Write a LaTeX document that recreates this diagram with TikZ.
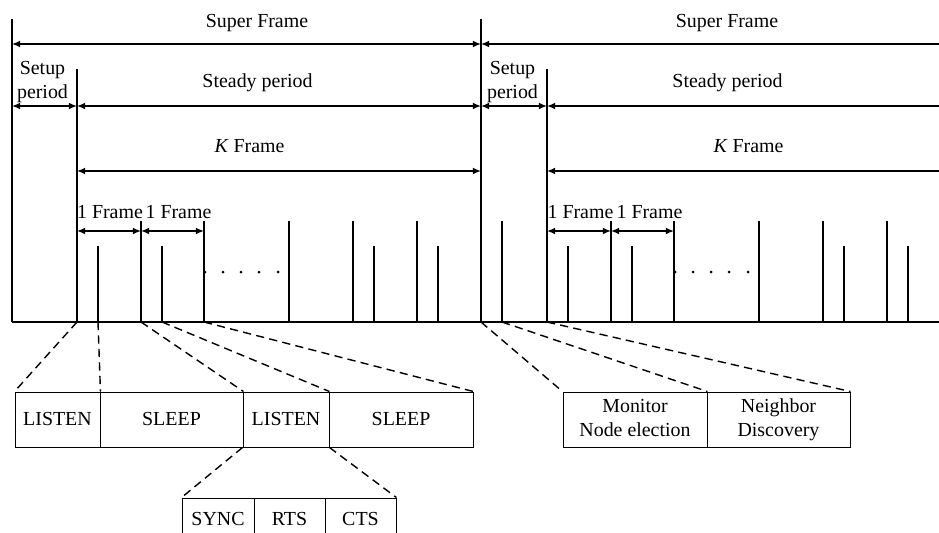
\documentclass[tikz,border=0pt]{standalone}
\usepackage{fontspec}
\setmainfont{Liberation Serif}
\usetikzlibrary{arrows.meta}

\begin{document}
\begin{tikzpicture}[x=0.03cm,y=-0.03cm,
  lbl/.style={font=\fontsize{17}{20}\selectfont,inner sep=0pt},
  tick/.style={line width=1.4pt},
  dim/.style={line width=1.4pt,{Latex[length=7pt,width=6pt]}-{Latex[length=7pt,width=6pt]}},
  diml/.style={line width=1.4pt,{Latex[length=7pt,width=6pt]}-},
  cell/.style={draw,line width=0.8pt,minimum height=1.65cm,inner sep=0pt,
    font=\fontsize{17}{21}\selectfont,align=center},
  zoomline/.style={line width=1.2pt,dash pattern=on 7pt off 4.5pt}]
  \clip (0,0) rectangle (939,533);

  \coordinate (ysup) at (0,44);
  \coordinate (yset) at (0,106);
  \coordinate (ykfr) at (0,171);
  \coordinate (yone) at (0,231);
  \coordinate (rim) at (950,0);

  \draw[tick] (12,322) -- (950,322);
  \foreach \x/\t in {12/19,77/69,98/246,141/221,162/246,204/221,289/221,353/221,374/246,417/221,438/246,
                     481/19,502/221,547/69,568/246,611/221,632/246,674/221,759/221,823/221,844/246,887/221,908/246}
    \draw[tick] (\x,\t) -- (\x,322) coordinate (t\x);
  \foreach \x in {205,223,241,259,278,675,693,711,729,748}
    \fill (\x,272) circle (1.5);

  \node[lbl,anchor=base] (sup1) at (257,27) {Super Frame};
  \node[lbl,anchor=base] (sup2) at (727,27) {Super Frame};
  \node[lbl,align=center] (set1) at (42.5,82) {Setup\strut\\period\strut};
  \node[lbl,align=center] (set2) at (512.5,82) {Setup\strut\\period\strut};
  \node[lbl,anchor=base] (std1) at (257.5,87) {Steady period};
  \node[lbl,anchor=base] (std2) at (727.5,87) {Steady period};
  \node[lbl,anchor=base] (kfr1) at (249.5,152) {\textit{K} Frame};
  \node[lbl,anchor=base] (kfr2) at (748.5,152) {\textit{K} Frame};
  \node[lbl,anchor=base] (one1) at (110,218) {1 Frame};
  \node[lbl,anchor=base] (one2) at (178.5,218) {1 Frame};
  \node[lbl,anchor=base] (one3) at (580.5,218) {1 Frame};
  \node[lbl,anchor=base] (one4) at (649.5,218) {1 Frame};

  \draw[dim] (t12 |- ysup) -- (t481 |- ysup);
  \draw[diml] (t481 |- ysup) -- (rim |- ysup);
  \draw[dim] (t12 |- yset) -- (t77 |- yset);
  \draw[dim] (t77 |- yset) -- (t481 |- yset);
  \draw[dim] (t481 |- yset) -- (t547 |- yset);
  \draw[diml] (t547 |- yset) -- (rim |- yset);
  \draw[dim] (t77 |- ykfr) -- (t481 |- ykfr);
  \draw[diml] (t547 |- ykfr) -- (rim |- ykfr);
  \draw[dim] (t77 |- yone) -- (t141 |- yone);
  \draw[dim] (t141 |- yone) -- (t204 |- yone);
  \draw[dim] (t547 |- yone) -- (t611 |- yone);
  \draw[dim] (t611 |- yone) -- (t674 |- yone);

  \node[cell,minimum width=2.55cm] (lst1) at (57.5,419.5) {LISTEN};
  \node[cell,minimum width=4.29cm] (slp1) at (171.5,419.5) {SLEEP};
  \node[cell,minimum width=2.58cm] (lst2) at (286,419.5) {LISTEN};
  \node[cell,minimum width=4.32cm] (slp2) at (401,419.5) {SLEEP};
  \node[cell,minimum width=2.16cm,minimum height=1.26cm] (sync) at (218,519) {SYNC};
  \node[cell,minimum width=2.13cm,minimum height=1.26cm] (rts) at (289.5,519) {RTS};
  \node[cell,minimum width=2.13cm,minimum height=1.26cm] (cts) at (360.5,519) {CTS};
  \node[cell,minimum width=4.32cm] (mon) at (635,419.5) {Monitor\strut\\Node election\strut};
  \node[cell,minimum width=4.29cm] (nbr) at (778.5,419.5) {Neighbor\strut\\Discovery\strut};

  \draw[zoomline] (t77) -- (lst1.north west);
  \draw[zoomline] (t98) -- (lst1.north east);
  \draw[zoomline] (t141) -- (slp1.north east);
  \draw[zoomline] (t162) -- (lst2.north east);
  \draw[zoomline] (t204) -- (slp2.north east);
  \draw[zoomline] (lst2.south west) -- (sync.north west);
  \draw[zoomline] (lst2.south east) -- (cts.north east);
  \draw[zoomline] (t481) -- (mon.north west);
  \draw[zoomline] (t502) -- (mon.north east);
  \draw[zoomline] (t547) -- (nbr.north east);
\end{tikzpicture}
\end{document}
